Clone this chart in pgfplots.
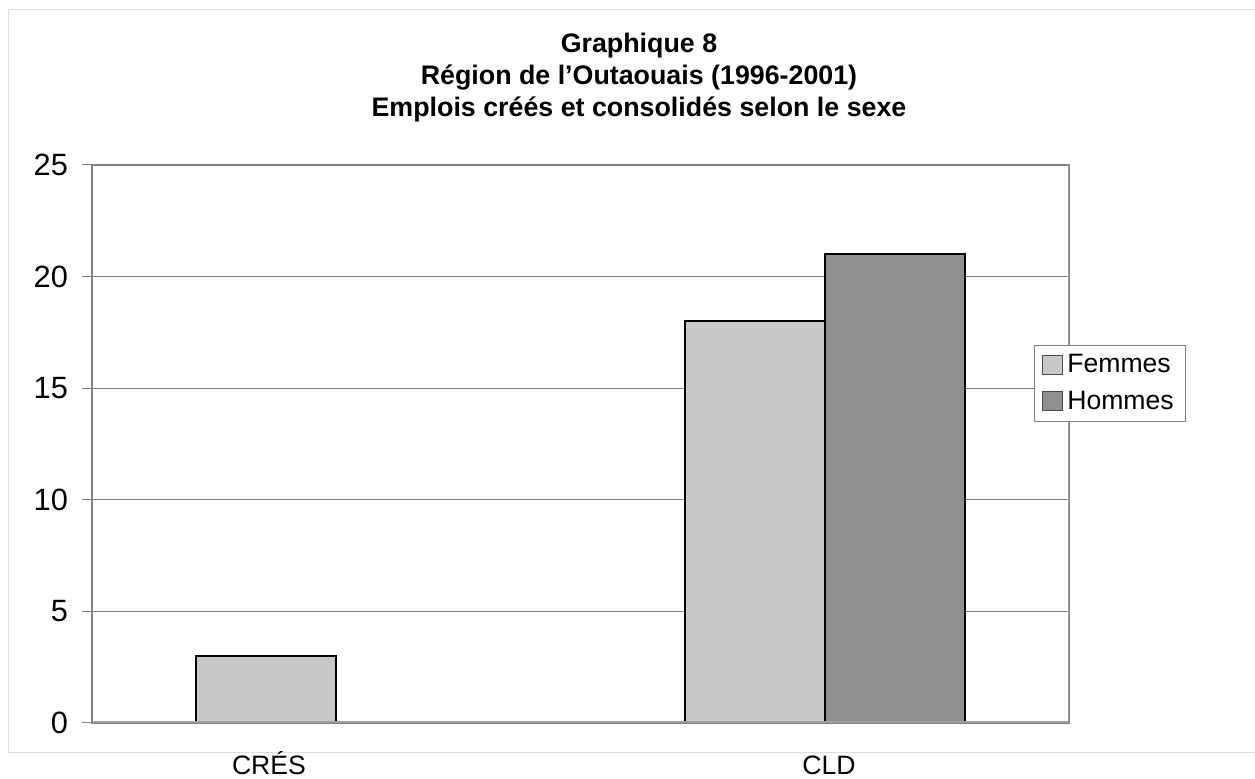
\documentclass[border=0pt]{standalone}
\usepackage{fontspec}
\setmainfont{Liberation Sans}
\usepackage{pgfplots}
\pgfplotsset{compat=1.18}
\definecolor{femmes}{HTML}{C8C8C8}
\definecolor{hommes}{HTML}{8F8F8F}
\definecolor{axisgray}{HTML}{808080}
\definecolor{framegray}{HTML}{DDDDDD}

\begin{document}
\begin{tikzpicture}
\useasboundingbox (0,0) rectangle (627.5pt,389.5pt);
\draw[framegray, line width=0.5pt] (4pt,13pt) rectangle (640pt,384.5pt);
\node[anchor=base, font=\bfseries\fontsize{13.4}{15}\selectfont] at (319.5pt,363pt) {Graphique 8};
\node[anchor=base, font=\bfseries\fontsize{13.4}{15}\selectfont] at (319.5pt,347pt) {Région de l’Outaouais (1996-2001)};
\node[anchor=base, font=\bfseries\fontsize{13.4}{15}\selectfont] at (319.5pt,331pt) {Emplois créés et consolidés selon le sexe};
\begin{axis}[
    at={(46pt,28pt)}, anchor=south west,
    width=488.5pt, height=279pt, scale only axis,
    xmin=-0.5, xmax=1.5, ymin=0, ymax=25,
    ytick={0,5,...,25}, ytick pos=left,
    ymajorgrids,
    grid style={axisgray, line width=0.5pt},
    axis line style={axisgray, line width=0.75pt},
    tick align=outside, major tick length=5pt,
    ytick style={axisgray, line width=0.5pt},
    xtick={-0.1377,1.0087}, xticklabels={CRÉS,CLD},
    xtick style={draw=none},
    xticklabel style={anchor=base, yshift=-21pt, font=\fontsize{13.3}{15}\selectfont},
    yticklabel style={font=\fontsize{15.4}{18}\selectfont, xshift=-3.5pt},
    /pgf/number format/assume math mode=true,
    ybar, bar width=70pt,
    legend style={at={(0.964,0.6774)}, anchor=north west,
      draw=axisgray, line width=0.5pt,
      font=\fontsize{13.3}{15}\selectfont,
      inner xsep=4pt, inner ysep=2.5pt, row sep=3.5pt},
    legend cell align=left,
    legend image code/.code={\draw[#1, draw=black!70, line width=0.5pt] (0pt,-4.75pt) rectangle (10pt,4.75pt);},
  ]
  % Femmes
  \addplot[fill=femmes, draw=black, line width=1pt, bar shift=-35pt] coordinates {(0,3) (1,18)};
  % Hommes (CRES = 0, nothing drawn)
  \addplot[fill=hommes, draw=black, line width=1pt, bar shift=35pt] coordinates {(1,21)};
  \legend{Femmes,Hommes}
  \draw[color=gray!75, line width=1.5pt] (rel axis cs:0,0) -- (rel axis cs:1,0) -- (rel axis cs:1,1);
\end{axis}
\end{tikzpicture}
\end{document}
